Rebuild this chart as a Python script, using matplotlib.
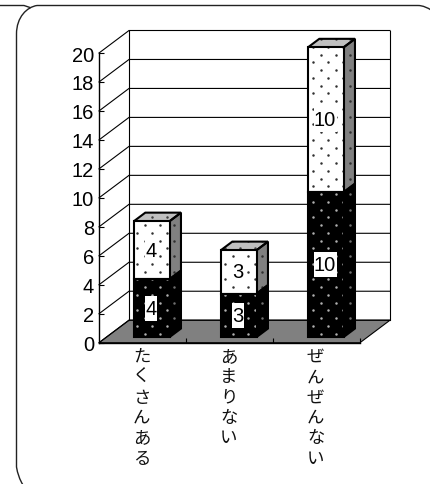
import numpy as np
import matplotlib
matplotlib.use("Agg")
import matplotlib.pyplot as plt
from matplotlib.patches import Polygon, PathPatch, Rectangle
from matplotlib.path import Path
from matplotlib.transforms import IdentityTransform

categories = ["たくさんある", "あまりない", "ぜんぜんない"]
lower_values = [4, 3, 10]
upper_values = [4, 3, 10]
y_ticks = list(range(0, 21, 2))

W, H = 430, 485
plt.rcParams['font.family'] = ['Liberation Sans', 'DejaVu Sans']
fig = plt.figure(figsize=(W / 100, H / 100), dpi=100)
ax = fig.add_axes([99 / W, (H - 343.7) / H, 261 / W, 289.7 / H])
ax.set_xlim(0, 3)
ax.set_ylim(0, 20)
ax.patch.set_visible(False)
for s in ('top', 'right'):
    ax.spines[s].set_visible(False)
for s in ('left', 'bottom'):
    ax.spines[s].set_linewidth(1.0)
    ax.spines[s].set_zorder(5)

px_x = 3 / 261
px_y = 20 / 289.7
DX = 30 * px_x
DY = 22.5 * px_y


def P(x, v, d):
    return (x + d * DX, v + d * DY)


# floor and walls
ax.add_patch(Polygon([P(0, 0, 0), P(3, 0, 0), P(3, 0, 1), P(0, 0, 1)], fc='#808080',
                     ec='black', lw=0.8, zorder=1, clip_on=False))
for v in y_ticks:
    ax.plot(*zip(P(0, v, 0), P(0, v, 1), P(3, v, 1)), color='black', lw=0.8, zorder=1,
            clip_on=False, solid_joinstyle='miter')
ax.plot(*zip(P(0, 0, 1), P(0, 20, 1)), color='black', lw=0.8, zorder=1, clip_on=False)
ax.plot(*zip(P(3, 0, 1), P(3, 20, 1)), color='black', lw=0.8, zorder=1, clip_on=False)

ax.set_yticks(y_ticks)
ax.tick_params(axis='y', direction='in', length=3.6, width=0.8, pad=3.5, labelsize=14.5, zorder=6)
ax.set_xticks([1, 2, 3], minor=False)
ax.tick_params(axis='x', direction='in', length=3.6, width=0.8, labelbottom=False)

BAR_LEFT = 0.315
BAR_W = 0.41
D0, D1 = 0.25, 0.63

# regular dot screen, in pixels
ii, jj = np.meshgrid(np.arange(-2, 32), np.arange(-2, 32))
gx = np.r_[(313.3 - 14.67 * 14 + 14.67 * ii).ravel(), (321.0 - 14.67 * 14 + 14.67 * ii).ravel()]
gy = np.r_[(63.3 + 15.5 * jj).ravel(), (55.6 + 15.5 * jj).ravel()]
gxy = np.column_stack([gx, H - gy])


def face(pts, fc, dot, z):
    poly = Polygon(pts, fc=fc, ec='none', zorder=z, clip_on=False)
    ax.add_patch(poly)
    sc = ax.scatter(gxy[:, 0], gxy[:, 1], s=3.2, c=dot, linewidths=0, marker='o',
                    transform=IdentityTransform(), zorder=z + 0.1)
    sc.set_clip_path(poly)
    edge = Polygon(pts, fc='none', ec='black', lw=1.5, zorder=z + 0.2, clip_on=False,
                   joinstyle='miter')
    ax.add_patch(edge)


def segment(i, v0, v1, front, fdot, side, sdot, top):
    xl = i + BAR_LEFT
    xr = xl + BAR_W
    face([P(xr, v0, D0), P(xr, v1, D0), P(xr, v1, D1), P(xr, v0, D1)], side, sdot, 3)
    if top:
        face([P(xl, v1, D0), P(xr, v1, D0), P(xr, v1, D1), P(xl, v1, D1)], '#c0c0c0', '#404040', 3)
    face([P(xl, v0, D0), P(xr, v0, D0), P(xr, v1, D0), P(xl, v1, D0)], front, fdot, 3.5)


labels = []
for i, (a, b) in enumerate(zip(lower_values, upper_values)):
    segment(i, 0, a, 'black', '#b0b0b0', 'black', '#707070', False)
    segment(i, a, a + b, 'white', '#303030', '#808080', '#303030', True)
    cx, _ = P(i + BAR_LEFT + BAR_W / 2, 0, D0)
    cx -= 1 * px_x
    for v, val, in ((a / 2, a), (a + b / 2, b)):
        _, cy = P(0, v, D0)
        labels.append(ax.text(cx, cy, str(val), ha='center', va='center', fontsize=14.5,
                              color='black', zorder=8))

# white boxes behind value labels
fig.canvas.draw()
rend = fig.canvas.get_renderer()
for t in labels:
    e = t.get_window_extent(rend)
    cy = (e.y0 + e.y1) / 2
    ax.add_patch(Rectangle((e.x0, cy - 12.5), e.width + 1, 25, fc='white', ec='none',
                           transform=IdentityTransform(), zorder=7))

# category labels, written top to bottom
for i, c in enumerate(categories):
    ax.annotate("\n".join(c), xy=(i + 0.5, 0), xytext=(-0.6, -3), textcoords='offset points',
                ha='center', va='top', fontsize=12.5, linespacing=1.17,
                family=['Noto Sans CJK JP', 'DejaVu Sans'], color='#111111')

# rounded frame around the picture
ov = fig.add_axes([0, 0, 1, 1], zorder=-1)
ov.set_xlim(0, W)
ov.set_ylim(H, 0)
ov.axis('off')
verts = [(23, 486), (18, 478), (16.5, 468), (16.5, 35), (16.5, 18), (27, 8), (37, 6.5),
         (40, 6.5), (418, 6.5), (423, 6.5), (428, 9), (431, 11)]
codes = [Path.MOVETO, Path.CURVE3, Path.CURVE3, Path.LINETO, Path.CURVE4, Path.CURVE4, Path.CURVE4,
         Path.LINETO, Path.LINETO, Path.CURVE4, Path.CURVE4, Path.CURVE4]
ov.add_patch(PathPatch(Path(verts, codes), fc='none', ec='#222222', lw=1.0))
ov.plot([0, 24, 30], [6.5, 6.5, 8.5], color='#222222', lw=1.0)

fig.savefig("out.png", dpi=100, facecolor='white')
